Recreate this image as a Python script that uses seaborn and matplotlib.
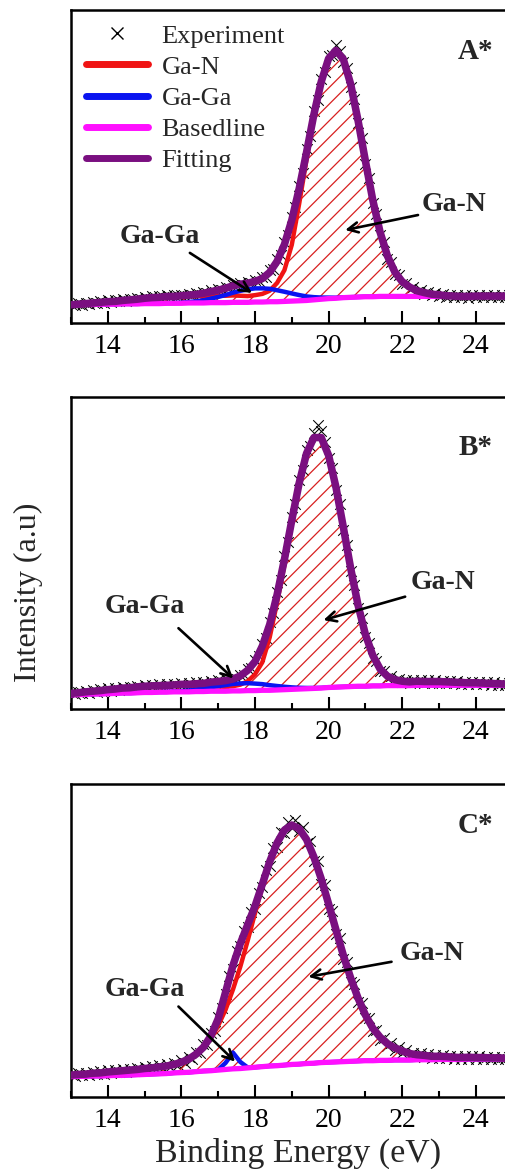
import numpy as np
import matplotlib
matplotlib.use("Agg")
import matplotlib.pyplot as plt
import seaborn as sns
from matplotlib.lines import Line2D
from matplotlib.ticker import MultipleLocator

sns.set_theme(style="ticks")
plt.rcParams['font.family'] = ['Liberation Serif', 'DejaVu Serif']
plt.rcParams['hatch.color'] = '#d82020'
plt.rcParams['hatch.linewidth'] = 0.9

# ---------------- data (intensity in arbitrary units) ----------------
BE_FIT = [13.0, 13.2, 13.4, 13.6, 13.8, 14.0, 14.2, 14.4, 14.6, 14.8,
          15.0, 15.2, 15.4, 15.6, 15.8, 16.0, 16.2, 16.4, 16.6, 16.8,
          17.0, 17.2, 17.4, 17.6, 17.8, 18.0, 18.2, 18.4, 18.6, 18.8,
          19.0, 19.2, 19.4, 19.6, 19.8, 20.0, 20.2, 20.4, 20.6, 20.8,
          21.0, 21.2, 21.4, 21.6, 21.8, 22.0, 22.2, 22.4, 22.6, 22.8,
          23.0, 23.2, 23.4, 23.6, 23.8, 24.0, 24.2, 24.4, 24.6, 24.8,
          25.0]

BE_EXP = [13.0, 13.1, 13.2, 13.3, 13.4, 13.5, 13.6, 13.7, 13.8, 13.9,
          14.0, 14.1, 14.2, 14.3, 14.4, 14.5, 14.6, 14.7, 14.8, 14.9,
          15.0, 15.1, 15.2, 15.3, 15.4, 15.5, 15.6, 15.7, 15.8, 15.9,
          16.0, 16.1, 16.2, 16.3, 16.4, 16.5, 16.6, 16.7, 16.8, 16.9,
          17.0, 17.1, 17.2, 17.3, 17.4, 17.5, 17.6, 17.7, 17.8, 17.9,
          18.0, 18.1, 18.2, 18.3, 18.4, 18.5, 18.6, 18.7, 18.8, 18.9,
          19.0, 19.1, 19.2, 19.3, 19.4, 19.5, 19.6, 19.7, 19.8, 19.9,
          20.0, 20.1, 20.2, 20.3, 20.4, 20.5, 20.6, 20.7, 20.8, 20.9,
          21.0, 21.1, 21.2, 21.3, 21.4, 21.5, 21.6, 21.7, 21.8, 21.9,
          22.0, 22.1, 22.2, 22.3, 22.4, 22.5, 22.6, 22.7, 22.8, 22.9,
          23.0, 23.1, 23.2, 23.3, 23.4, 23.5, 23.6, 23.7, 23.8, 23.9,
          24.0, 24.1, 24.2, 24.3, 24.4, 24.5, 24.6, 24.7, 24.8, 24.9,
          25.0]

# ---- panel A ----
A_BASE = [5.8, 5.8, 5.9, 5.9, 6.0, 6.0, 6.0, 6.1, 6.1, 6.1,
          6.2, 6.2, 6.2, 6.3, 6.3, 6.3, 6.4, 6.4, 6.4, 6.5,
          6.5, 6.5, 6.6, 6.6, 6.6, 6.7, 6.7, 6.8, 6.8, 6.9,
          7.0, 7.1, 7.2, 7.4, 7.6, 7.8, 7.9, 8.1, 8.2, 8.3,
          8.4, 8.4, 8.5, 8.5, 8.5, 8.5, 8.5, 8.5, 8.5, 8.5,
          8.5, 8.5, 8.5, 8.5, 8.5, 8.6, 8.6, 8.6, 8.6, 8.6,
          8.6]
A_GAN = [0.0, 0.2, 0.3, 0.5, 0.6, 0.8, 0.9, 1.1, 1.3, 1.5,
         1.7, 1.9, 2.0, 2.1, 2.1, 2.2, 2.2, 2.2, 2.2, 2.2,
         2.2, 2.2, 2.2, 2.1, 2.0, 2.2, 2.6, 3.5, 6.0, 10.0,
         18.0, 31.0, 45.0, 58.0, 68.8, 76.3, 79.0, 76.1, 68.0, 56.4,
         43.4, 30.9, 20.5, 12.9, 7.8, 4.7, 3.0, 1.8, 1.2, 0.7,
         0.5, 0.2, 0.1, 0.0, 0.0, 0.0, 0.0, 0.0, 0.0, 0.0,
         0.0]
A_GAGA = [0, 0, 0, 0, 0, 0, 0, 0, 0, 0,
          0, 0, 0.02, 0.05, 0.09, 0.18, 0.32, 0.54, 0.86, 1.29,
          1.83, 2.44, 3.08, 3.67, 4.12, 4.37, 4.37, 4.12, 3.67, 3.08,
          2.44, 1.83, 1.29, 0.86, 0.54, 0.32, 0.18, 0.09, 0.05, 0.02,
          0, 0, 0, 0, 0, 0, 0, 0, 0, 0,
          0, 0, 0, 0, 0, 0, 0, 0, 0, 0,
          0]
A_FIT = [5.8, 6.0, 6.2, 6.4, 6.6, 6.8, 6.9, 7.2, 7.4, 7.6,
         7.9, 8.1, 8.2, 8.45, 8.5, 8.7, 8.9, 9.1, 9.5, 10.0,
         10.5, 11.1, 11.9, 12.4, 12.7, 13.3, 14.2, 16.2, 19.7, 25.1,
         32.9, 42.9, 54.5, 66.6, 77.1, 84.5, 87.1, 84.3, 76.3, 64.7,
         51.8, 39.3, 29.0, 21.4, 16.3, 13.2, 11.5, 10.3, 9.7, 9.2,
         9.0, 8.7, 8.6, 8.5, 8.5, 8.6, 8.6, 8.6, 8.6, 8.6,
         8.6]
A_EXP = [6.1, 5.6, 6.4, 5.9, 6.5, 6.0, 6.8, 6.3, 7.0, 6.5,
         7.2, 6.6, 7.3, 7.0, 7.6, 7.1, 7.8, 7.3, 8.0, 7.6,
         8.3, 7.8, 8.5, 8.0, 8.6, 8.2, 8.8, 8.3, 8.9, 8.5,
         9.1, 8.6, 9.3, 8.8, 9.5, 9.1, 9.9, 9.5, 10.4, 10.0,
         10.9, 10.5, 11.6, 11.2, 12.3, 11.9, 12.8, 12.3, 13.1, 12.7,
         13.8, 13.3, 14.7, 14.7, 16.8, 17.3, 20.4, 21.6, 25.9, 28.1,
         33.8, 37.0, 43.8, 47.8, 55.5, 59.7, 67.6, 71.1, 78.0, 80.2,
         85.3, 85.6, 88.8, 87.0, 83.5, 81.6, 75.4, 71.7, 63.8, 59.2,
         50.9, 46.4, 38.4, 34.8, 28.1, 25.8, 20.6, 19.4, 15.6, 15.3,
         12.6, 12.9, 11.0, 11.5, 9.9, 10.5, 9.3, 9.9, 8.8, 9.5,
         8.6, 9.2, 8.3, 9.0, 8.2, 8.9, 8.2, 8.9, 8.1, 8.9,
         8.2, 8.8, 8.2, 9.0, 8.3, 8.9, 8.2, 9.0, 8.3, 8.9,
         8.3]

# ---- panel B ----
B_BASE = [4.5, 4.6, 4.7, 4.8, 4.8, 4.9, 5.0, 5.1, 5.1, 5.2,
          5.3, 5.3, 5.4, 5.4, 5.5, 5.5, 5.5, 5.6, 5.6, 5.7,
          5.7, 5.7, 5.8, 5.8, 5.9, 5.9, 6.0, 6.0, 6.1, 6.2,
          6.3, 6.4, 6.5, 6.6, 6.7, 6.9, 7.0, 7.1, 7.2, 7.3,
          7.3, 7.4, 7.4, 7.5, 7.5, 7.5, 7.5, 7.6, 7.6, 7.6,
          7.6, 7.6, 7.6, 7.6, 7.6, 7.6, 7.6, 7.6, 7.6, 7.6,
          7.6]
B_GAN = [0.5, 0.6, 0.8, 0.9, 1.1, 1.3, 1.4, 1.6, 1.7, 1.9,
         2.0, 2.1, 2.1, 2.1, 2.1, 2.1, 2.0, 1.9, 1.7, 1.6,
         1.5, 1.4, 1.5, 2.0, 3.0, 5.2, 9.0, 17.0, 28.0, 40.0,
         53.0, 65.3, 75.0, 80.3, 80.2, 74.4, 64.1, 51.2, 37.9, 26.0,
         16.6, 9.8, 5.4, 3.0, 1.9, 1.4, 1.2, 1.3, 1.2, 1.2,
         1.2, 1.1, 1.0, 0.9, 0.8, 0.8, 0.7, 0.6, 0.5, 0.4,
         0.4]
B_GAGA = [0, 0, 0, 0, 0, 0, 0, 0, 0, 0,
          0, 0.02, 0.04, 0.08, 0.14, 0.25, 0.41, 0.64, 0.93, 1.27,
          1.64, 1.97, 2.24, 2.38, 2.38, 2.24, 1.97, 1.64, 1.27, 0.93,
          0.64, 0.41, 0.25, 0.14, 0.08, 0.04, 0.02, 0, 0, 0,
          0, 0, 0, 0, 0, 0, 0, 0, 0, 0,
          0, 0, 0, 0, 0, 0, 0, 0, 0, 0,
          0]
B_FIT = [5.0, 5.2, 5.5, 5.7, 5.9, 6.2, 6.4, 6.7, 6.8, 7.1,
         7.3, 7.4, 7.5, 7.6, 7.7, 7.9, 7.9, 8.1, 8.2, 8.6,
         8.8, 9.1, 9.6, 10.6, 12.4, 15.2, 20.2, 27.1, 36.6, 48.0,
         60.5, 72.4, 81.9, 87.0, 87.0, 81.3, 71.1, 58.3, 45.1, 33.3,
         23.9, 17.2, 12.8, 10.5, 9.4, 8.9, 8.7, 8.9, 8.8, 8.8,
         8.8, 8.7, 8.6, 8.5, 8.4, 8.4, 8.3, 8.2, 8.1, 8.0,
         8.0]
B_EXP = [5.4, 4.7, 5.6, 5.0, 5.9, 5.2, 6.1, 5.4, 6.3, 5.7,
         6.6, 5.9, 6.8, 6.2, 7.1, 6.4, 7.2, 6.6, 7.5, 6.8,
         7.7, 7.0, 7.8, 7.1, 7.9, 7.2, 8.0, 7.3, 8.1, 7.4,
         8.3, 7.5, 8.3, 7.6, 8.5, 7.8, 8.6, 8.0, 9.0, 8.3,
         9.2, 8.6, 9.5, 9.0, 10.0, 9.6, 11.0, 11.0, 12.9, 13.2,
         15.8, 17.0, 20.9, 22.8, 27.9, 30.9, 37.5, 41.4, 49.0, 53.4,
         61.5, 65.7, 73.4, 76.6, 83.0, 84.3, 88.6, 91.0, 89.0, 85.5,
         80.4, 77.4, 70.2, 65.8, 57.4, 52.6, 44.2, 39.9, 32.4, 29.1,
         23.1, 21.0, 16.5, 15.5, 12.2, 12.1, 10.0, 10.5, 9.0, 9.6,
         8.5, 9.3, 8.3, 9.3, 8.5, 9.3, 8.4, 9.2, 8.4, 9.2,
         8.4, 9.1, 8.3, 9.0, 8.2, 8.9, 8.1, 8.8, 8.0, 8.8,
         8.0, 8.7, 7.9, 8.6, 7.8, 8.5, 7.7, 8.4, 7.6, 8.4,
         7.6]

# ---- panel C ----
C_BASE = [6.5, 6.6, 6.6, 6.7, 6.7, 6.8, 6.9, 6.9, 7.0, 7.1,
          7.2, 7.3, 7.4, 7.5, 7.7, 7.8, 7.9, 8.1, 8.3, 8.4,
          8.6, 8.8, 9.0, 9.1, 9.3, 9.5, 9.7, 9.9, 10.0, 10.2,
          10.4, 10.5, 10.7, 10.8, 11.0, 11.1, 11.2, 11.3, 11.4, 11.5,
          11.6, 11.6, 11.7, 11.7, 11.8, 11.8, 11.8, 11.9, 11.9, 11.9,
          12.0, 12.0, 12.0, 12.0, 12.1, 12.1, 12.1, 12.1, 12.1, 12.1,
          12.1]
C_GAN = [0.5, 0.6, 0.7, 0.9, 1.0, 1.2, 1.3, 1.5, 1.6, 1.7,
         1.9, 2.0, 2.2, 2.4, 2.7, 3.3, 4.2, 5.6, 7.6, 10.4,
         14.2, 19.1, 25.3, 32.5, 40.6, 49.2, 57.6, 65.3, 71.2, 75.1,
         76.5, 75.2, 71.6, 65.9, 58.7, 50.6, 42.2, 34.0, 26.6, 20.1,
         14.6, 10.4, 7.4, 5.3, 3.9, 2.9, 2.1, 1.6, 1.4, 1.1,
         1.0, 0.9, 0.7, 0.6, 0.6, 0.5, 0.5, 0.4, 0.4, 0.3,
         0.3]
C_GAGA = [0, 0, 0, 0, 0, 0, 0, 0, 0, 0,
          0, 0, 0, 0, 0, 0, 0, 0, 0, 0,
          0.15, 2.1, 5.2, 2.1, 0.15, 0, 0, 0, 0, 0,
          0, 0, 0, 0, 0, 0, 0, 0, 0, 0,
          0, 0, 0, 0, 0, 0, 0, 0, 0, 0,
          0, 0, 0, 0, 0, 0, 0, 0, 0, 0,
          0]
C_FIT = [7.0, 7.2, 7.3, 7.6, 7.7, 8.0, 8.2, 8.4, 8.6, 8.8,
         9.1, 9.3, 9.6, 9.9, 10.4, 11.1, 12.1, 13.7, 15.9, 19.5,
         25.0, 33.5, 42.0, 49.0, 55.0, 61.0, 68.0, 75.2, 81.2, 85.3,
         86.9, 85.7, 82.3, 76.7, 69.7, 61.7, 53.4, 45.3, 38.0, 31.6,
         26.2, 22.0, 19.1, 17.0, 15.7, 14.7, 13.9, 13.5, 13.3, 13.0,
         13.0, 12.9, 12.7, 12.6, 12.7, 12.6, 12.6, 12.5, 12.5, 12.4,
         12.4]
C_EXP = [7.4, 6.6, 7.7, 6.9, 7.8, 7.0, 8.1, 7.2, 8.2, 7.4,
         8.5, 7.7, 8.7, 7.9, 8.9, 8.1, 9.1, 8.3, 9.3, 8.5,
         9.6, 8.8, 9.8, 9.0, 10.1, 9.3, 10.5, 9.7, 11.0, 10.2,
         11.8, 11.0, 12.8, 12.3, 14.5, 14.1, 16.8, 16.5, 20.4, 21.0,
         25.5, 28.5, 33.0, 38.5, 41.0, 46.5, 48.2, 53.0, 54.3, 59.0,
         60.0, 65.2, 67.0, 72.6, 73.9, 79.6, 80.0, 84.8, 84.2, 87.8,
         86.0, 88.5, 84.9, 86.3, 81.0, 81.9, 75.3, 75.4, 68.2, 67.8,
         60.2, 59.4, 52.0, 50.9, 44.0, 43.0, 36.8, 36.0, 30.5, 30.0,
         25.2, 25.1, 21.1, 21.5, 18.3, 18.9, 16.3, 17.1, 15.1, 15.9,
         14.1, 14.9, 13.4, 14.2, 13.0, 13.9, 12.8, 13.6, 12.6, 13.4,
         12.6, 13.4, 12.5, 13.2, 12.3, 13.1, 12.2, 13.1, 12.3, 13.1,
         12.2, 13.0, 12.2, 12.9, 12.1, 12.9, 12.1, 12.8, 12.0, 12.8,
         12.0]

PANEL_LABELS = ["A*", "B*", "C*"]
LEGEND_LABELS = ["Experiment", "Ga-N", "Ga-Ga", "Basedline", "Fitting"]
TICKS = [14, 16, 18, 20, 22, 24]

# ---------------- styling / layout ----------------
C_RED, C_BLUE, C_MAG, C_PUR = "#f01414", "#0a14f0", "#ff10ff", "#7a0f80"
W, H = 506, 1169
fig = plt.figure(figsize=(W / 100, H / 100), dpi=100)

rects_px = [(71, 10, 512.6, 323), (71, 397, 512.6, 709), (71, 784, 512.6, 1097)]
label_pos = [(0.915, 0.866), (0.915, 0.837), (0.915, 0.869)]
ann_gan = [((23.41, 37.7), (22.43, 34.5), (20.45, 29.7)),
           ((23.12, 40.4), (22.08, 36.0), (19.86, 28.5)),
           ((22.80, 45.7), (21.71, 43.2), (19.45, 38.4))]
ann_gaga = [((15.42, 27.5), (16.23, 22.4), (17.92, 9.6)),
            ((15.01, 33.0), (15.92, 25.9), (17.41, 9.8)),
            ((15.01, 34.2), (15.92, 28.9), (17.46, 11.3))]

data = [(A_BASE, A_GAN, A_GAGA, A_FIT, A_EXP),
        (B_BASE, B_GAN, B_GAGA, B_FIT, B_EXP),
        (C_BASE, C_GAN, C_GAGA, C_FIT, C_EXP)]

x = np.array(BE_FIT)
axes = []
for i, ((l, t, r, b), (base, gan, gaga, fit, exp)) in enumerate(zip(rects_px, data)):
    ax = fig.add_axes([l / W, 1 - b / H, (r - l) / W, (b - t) / H])
    axes.append(ax)
    base = np.array(base); gan = np.array(gan); gaga = np.array(gaga)

    sns.scatterplot(x=BE_EXP, y=exp, marker="x", color="black", s=58,
                    linewidth=0.75, ax=ax, zorder=2, legend=False)
    ax.fill_between(x, base, base + gan, facecolor="none", edgecolor="#d82020",
                    hatch="//", linewidth=0, zorder=2.5)
    sns.lineplot(x=x, y=base + gan, color=C_RED, lw=3.2, ax=ax, zorder=3,
                 sort=False, estimator=None, legend=False)
    sns.lineplot(x=x, y=base + gaga, color=C_BLUE, lw=3.2, ax=ax, zorder=3.2,
                 sort=False, estimator=None, legend=False)
    sns.lineplot(x=x, y=base, color=C_MAG, lw=3.8, ax=ax, zorder=3.4,
                 sort=False, estimator=None, legend=False)
    sns.lineplot(x=x, y=fit, color=C_PUR, lw=5.4, ax=ax, zorder=3.6,
                 sort=False, estimator=None, legend=False)

    ax.set_xlim(13, 25)
    ax.set_ylim(0, 100)
    ax.set_yticks([])
    ax.set_xticks(TICKS)
    ax.xaxis.set_minor_locator(MultipleLocator(1))
    ax.tick_params(axis="x", which="major", direction="in", length=8.5, width=1.5,
                   labelsize=20, pad=8, color="black", labelcolor="black")
    ax.tick_params(axis="x", which="minor", direction="in", length=4.5, width=1.5,
                   color="black")
    for sp in ax.spines.values():
        sp.set_color("black")
        sp.set_linewidth(1.8)
    ax.set_xlabel("")
    ax.set_ylabel("")

    ax.text(label_pos[i][0], label_pos[i][1], PANEL_LABELS[i], transform=ax.transAxes,
            fontsize=21, fontweight="bold", ha="center", va="center")

    for (txt, lab) in ((ann_gan[i], "Ga-N"), (ann_gaga[i], "Ga-Ga")):
        (tx, ty), tail, head = txt
        ax.text(tx, ty, lab, fontsize=20, fontweight="bold", ha="center", va="center",
                zorder=6)
        ax.annotate("", xy=head, xytext=tail,
                    arrowprops=dict(arrowstyle="->", color="black", lw=1.9,
                                    mutation_scale=18, shrinkA=0, shrinkB=0),
                    zorder=6)

handles = [Line2D([], [], marker="x", color="black", ls="none", ms=8, mew=1.0),
           Line2D([], [], color=C_RED, lw=5),
           Line2D([], [], color=C_BLUE, lw=5),
           Line2D([], [], color=C_MAG, lw=5),
           Line2D([], [], color=C_PUR, lw=5)]
axes[0].legend(handles, LEGEND_LABELS, loc="upper left", bbox_to_anchor=(0.035, 0.955),
               frameon=False, fontsize=19, handlelength=2.35, handletextpad=0.5,
               labelspacing=0.29, borderpad=0, borderaxespad=0)

fig.text(28 / W, 1 - 592 / H, "Intensity (a.u)", rotation=90, ha="center",
         va="center", fontsize=23)
fig.text(298 / W, 1 - 1153 / H, "Binding Energy (eV)", ha="center", va="center",
         fontsize=24.5)

fig.savefig("out.png", dpi=100, facecolor="white")
